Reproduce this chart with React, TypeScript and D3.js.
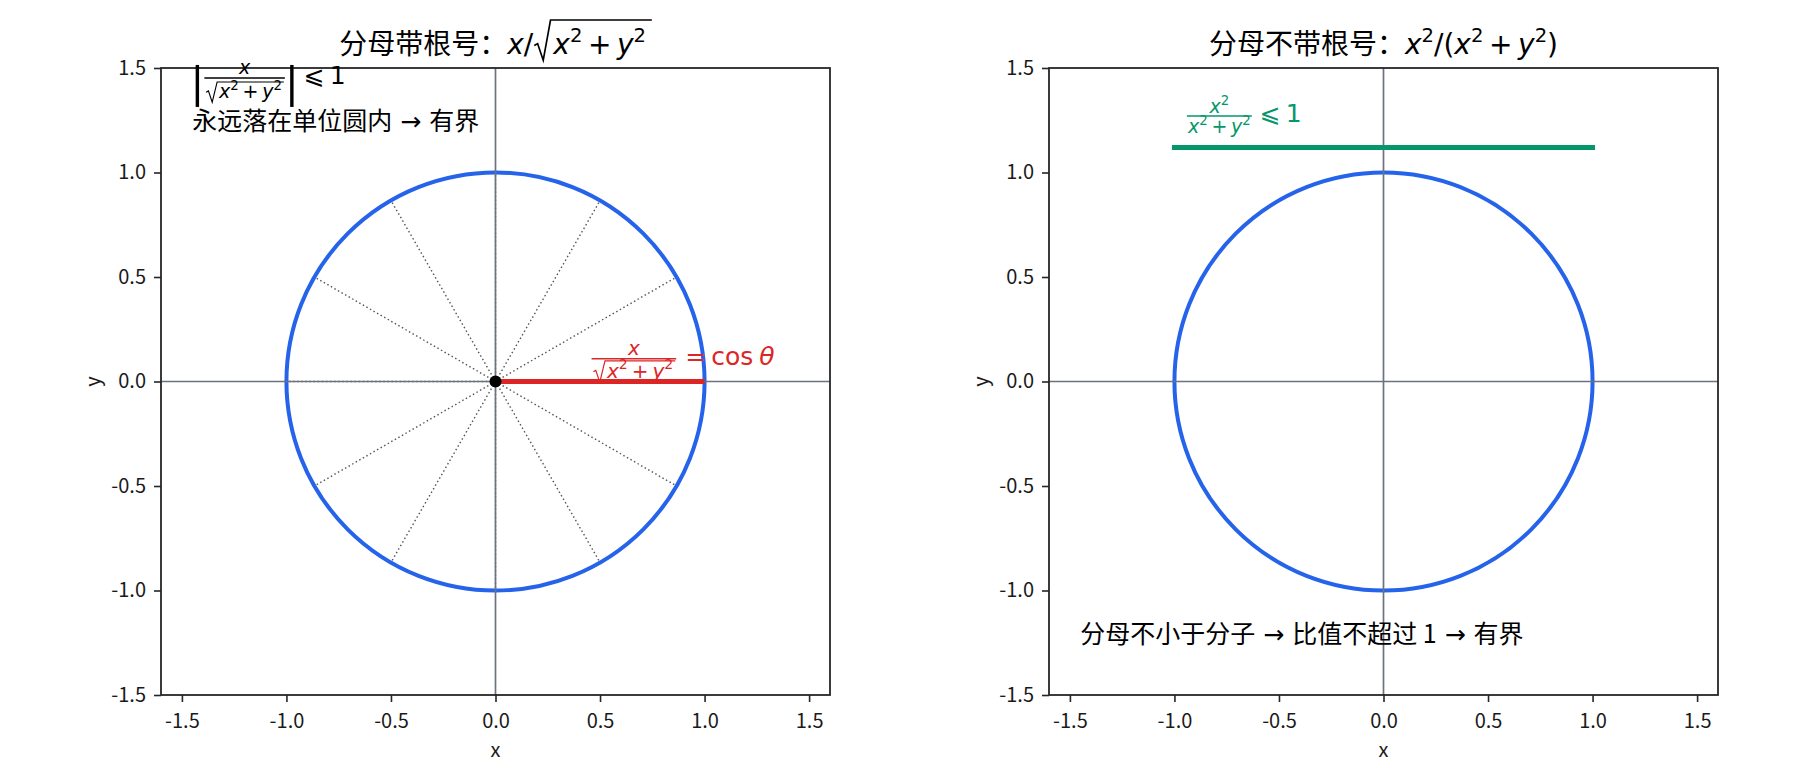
import * as d3 from 'd3'
import { useEffect, useRef } from 'react'

// axis ticks shared by both panels
const ticks = [-1.5, -1, -0.5, 0, 0.5, 1, 1.5]
const tickLabels = ['-1.5', '-1.0', '-0.5', '0.0', '0.5', '1.0', '1.5']
const xDomain = [-1.6, 1.6]
const yDomain = [-1.5, 1.5]

// left panel
const rayAngles = [0, 30, 60, 90, 120, 150, 180, 210, 240, 270, 300, 330]
const unitRadius = 1
const cosSegment: [number, number][] = [[0, 0], [1, 0]]
const origin: [number, number] = [0, 0]

// right panel
const boundSegment: [number, number][] = [[-1, 1.12], [1, 1.12]]

const titleText = ['分母带根号：', '分母不带根号：']
const noteLeft = '永远落在单位圆内 → 有界'
const noteRight = '分母不小于分子 → 比值不超过 1 → 有界'

// layout
const WIDTH = 1800
const HEIGHT = 780
const PANEL_X = [[161, 830], [1049, 1718]]
const PLOT_TOP = 68
const PLOT_BOTTOM = 695

const MATH_FONT = "'DejaVu Sans', sans-serif"
const CJK_FONT = "'Noto Sans CJK SC', sans-serif"

const BLUE = '#2563eb'
const RED = '#dc2626'
const GREEN = '#059669'
const INK = '#262626'
const ZERO = '#6b7280'
const RAY = '#555555'

const ctx = document.createElement('canvas').getContext('2d')!

// --- tiny math typesetting helpers ---
type MNode =
  | { k: 't'; s: string; size: number; it?: boolean; up?: number; cjk?: boolean }
  | { k: 'sp'; w: number }
  | { k: 'sqrt'; body: MNode[]; size: number; top: number }
  | { k: 'frac'; num: MNode[]; den: MNode[]; size: number; axis: number; nUp: number; dDown: number }
  | { k: 'bar'; w: number; top: number; bot: number }

const T = (s: string, size: number, o: any = {}): MNode => ({ k: 't', s, size, ...o })
const I = (s: string, size: number): MNode => T(s, size, { it: true })
const sup = (s: string, size: number): MNode => T(s, size * 0.7, { up: size * 0.42 })
const sp = (w: number): MNode => ({ k: 'sp', w })
const sumSq = (s: number): MNode[] => [
  I('x', s), sup('2', s), sp(s * 0.2), T('+', s), sp(s * 0.2), I('y', s), sup('2', s),
]

const fontOf = (n: any) => `${n.it ? 'italic ' : ''}${n.size}px ${n.cjk ? CJK_FONT : MATH_FONT}`

function nodeWidth(n: MNode): number {
  if (n.k === 't') {
    ctx.font = fontOf(n)
    return ctx.measureText(n.s).width
  }
  if (n.k === 'sp' || n.k === 'bar') return n.w
  if (n.k === 'sqrt') return n.size * 0.72 + rowWidth(n.body) + n.size * 0.1
  return Math.max(rowWidth(n.num), rowWidth(n.den)) + n.size * 0.24
}
const rowWidth = (row: MNode[]) => d3.sum(row, nodeWidth)

function drawRow(row: MNode[], x: number, y: number, color: string, out: any[]) {
  let cx = x
  for (const n of row) {
    const w = nodeWidth(n)
    if (n.k === 't') {
      out.push(
        <text key={out.length} x={cx} y={y - (n.up ?? 0)} fontFamily={n.cjk ? CJK_FONT : MATH_FONT}
          fontStyle={n.it ? 'italic' : 'normal'} fontSize={n.size} fill={color}>{n.s}</text>
      )
    } else if (n.k === 'sqrt') {
      const s = n.size
      const top = y - n.top
      const bot = y + 0.22 * s
      out.push(
        <path key={out.length}
          d={`M${cx + 0.04 * s},${y - 0.3 * s}L${cx + 0.16 * s},${y - 0.37 * s}L${cx + 0.36 * s},${bot}L${cx + 0.62 * s},${top}L${cx + w},${top}`}
          fill="none" stroke={color} strokeWidth={0.06 * s} />
      )
      drawRow(n.body, cx + 0.72 * s, y, color, out)
    } else if (n.k === 'frac') {
      const barY = y - n.axis
      const nw = rowWidth(n.num)
      const dw = rowWidth(n.den)
      out.push(
        <line key={out.length} x1={cx + 0.08 * n.size} x2={cx + w - 0.08 * n.size} y1={barY} y2={barY}
          stroke={color} strokeWidth={0.06 * n.size} />
      )
      drawRow(n.num, cx + (w - nw) / 2, barY - n.nUp, color, out)
      drawRow(n.den, cx + (w - dw) / 2, barY + n.dDown, color, out)
    } else if (n.k === 'bar') {
      out.push(
        <line key={out.length} x1={cx + w / 2} x2={cx + w / 2} y1={y - n.top} y2={y + n.bot}
          stroke={color} strokeWidth={3.4} />
      )
    }
    cx += w
  }
  return out
}

function MathText({ row, x, y, color = '#000', anchor = 'start' }: any) {
  const w = rowWidth(row)
  const x0 = anchor === 'middle' ? x - w / 2 : x
  return <g>{drawRow(row, x0, y, color, [])}</g>
}

// CJK note, arrows set in the math font like the original
function Note({ text, x, y }: { text: string; x: number; y: number }) {
  const parts = text.split(' → ')
  return (
    <text x={x} y={y} fontFamily={CJK_FONT} fontSize={25} fill="#000" xmlSpace="preserve">
      {parts.map((p, i) => (
        <tspan key={i}>
          {i > 0 && <tspan fontFamily={MATH_FONT}>{' → '}</tspan>}
          <tspan>{p}</tspan>
        </tspan>
      ))}
    </text>
  )
}

const titleRows: MNode[][] = [
  [T(titleText[0], 28, { cjk: true }), I('x', 28), T('/', 28), { k: 'sqrt', body: [...sumSq(28), sp(3)], size: 28, top: 34 }],
  [T(titleText[1], 28, { cjk: true }), I('x', 28), sup('2', 28), T('/', 28), T('(', 28), ...sumSq(28), T(')', 28)],
]

const absRow: MNode[] = [
  { k: 'bar', w: 10, top: 19, bot: 23 },
  {
    k: 'frac', num: [I('x', 19)], den: [{ k: 'sqrt', body: sumSq(19), size: 19, top: 16 }],
    size: 25, axis: 6, nUp: 4, dDown: 20,
  },
  { k: 'bar', w: 10, top: 19, bot: 23 },
  sp(7), T('⩽', 25), sp(5), T('1', 25),
]

const cosRow: MNode[] = [
  {
    k: 'frac', num: [I('x', 20)], den: [{ k: 'sqrt', body: sumSq(20), size: 20, top: 17 }],
    size: 25, axis: 6, nUp: 3.5, dDown: 19,
  },
  sp(7), T('=', 25), sp(5), T('cos', 25), sp(6), I('θ', 25),
]

const ratioRow: MNode[] = [
  {
    k: 'frac', num: [I('x', 19), sup('2', 19)], den: sumSq(19),
    size: 25, axis: 6.3, nUp: 3, dDown: 17,
  },
  sp(6), T('⩽', 25), sp(5), T('1', 25),
]

function Panel({ index }: { index: number }) {
  const [l, r] = PANEL_X[index]
  const x = d3.scaleLinear(xDomain, [l, r])
  const y = d3.scaleLinear(yDomain, [PLOT_BOTTOM, PLOT_TOP])
  const gx = useRef<SVGGElement>(null)
  const gy = useRef<SVGGElement>(null)

  useEffect(() => {
    const styleAxis = (g: any) => {
      g.attr('font-family', CJK_FONT).attr('font-size', 20)
      g.select('.domain').remove()
      g.selectAll('.tick line').attr('stroke', INK).attr('stroke-width', 1.6)
      g.selectAll('.tick text').attr('fill', '#1a1a1a')
    }
    const xAxis = d3.axisBottom(x).tickValues(ticks).tickFormat((_d, i) => tickLabels[i]).tickSize(7).tickPadding(12)
    const yAxis = d3.axisLeft(y).tickValues(ticks).tickFormat((_d, i) => tickLabels[i]).tickSize(7).tickPadding(8)
    styleAxis(d3.select(gx.current).call(xAxis as any))
    styleAxis(d3.select(gy.current).call(yAxis as any))
  }, [])

  const line = d3.line<[number, number]>().x((d) => x(d[0])).y((d) => y(d[1]))
  const cx = (l + r) / 2

  return (
    <g>
      <circle cx={x(0)} cy={y(0)} r={x(unitRadius) - x(0)} fill="none" stroke={BLUE} strokeWidth={4} />
      {index === 0 &&
        rayAngles.map((a) => {
          const t = (a * Math.PI) / 180
          return (
            <line key={a} x1={x(0)} y1={y(0)} x2={x(Math.cos(t) * unitRadius)} y2={y(Math.sin(t) * unitRadius)}
              stroke={RAY} strokeWidth={1.4} strokeDasharray="1.5 2.6" />
          )
        })}
      <line x1={l} x2={r} y1={y(0)} y2={y(0)} stroke={ZERO} strokeWidth={1.7} />
      <line x1={x(0)} x2={x(0)} y1={PLOT_TOP} y2={PLOT_BOTTOM} stroke={ZERO} strokeWidth={1.7} />
      {index === 0 && (
        <>
          <path d={line(cosSegment)!} stroke={RED} strokeWidth={5} fill="none" />
          <circle cx={x(origin[0])} cy={y(origin[1])} r={6} fill="#000" />
        </>
      )}
      {index === 1 && <path d={line(boundSegment)!} stroke={GREEN} strokeWidth={5} fill="none" strokeLinecap="square" />}
      <rect x={l} y={PLOT_TOP} width={r - l} height={PLOT_BOTTOM - PLOT_TOP} fill="none" stroke={INK} strokeWidth={1.8} />
      <g ref={gx} transform={`translate(0,${PLOT_BOTTOM})`} />
      <g ref={gy} transform={`translate(${l},0)`} />
      <text x={cx} y={757} textAnchor="middle" fontFamily={CJK_FONT} fontSize={20} fill="#1a1a1a">x</text>
      <text transform={`translate(${l - 68},${y(0)}) rotate(-90)`} textAnchor="middle" fontFamily={CJK_FONT}
        fontSize={20} fill="#1a1a1a" dy="0.35em">y</text>
      <MathText row={titleRows[index]} x={cx} y={54} anchor="middle" />
      {index === 0 ? (
        <>
          <MathText row={absRow} x={x(-1.45)} y={y(1.45) + 5.5} />
          <Note text={noteLeft} x={x(-1.45)} y={y(1.45) + 52} />
          <MathText row={cosRow} x={x(0.45)} y={y(0.08)} color={RED} />
        </>
      ) : (
        <>
          <MathText row={ratioRow} x={x(-0.95)} y={y(1.24)} color={GREEN} />
          <Note text={noteRight} x={x(-1.45)} y={y(-1.25)} />
        </>
      )}
    </g>
  )
}

export default function App() {
  return (
    <svg width={WIDTH} height={HEIGHT} style={{ position: 'fixed', left: 0, top: 0, background: '#fff' }}>
      <Panel index={0} />
      <Panel index={1} />
    </svg>
  )
}
